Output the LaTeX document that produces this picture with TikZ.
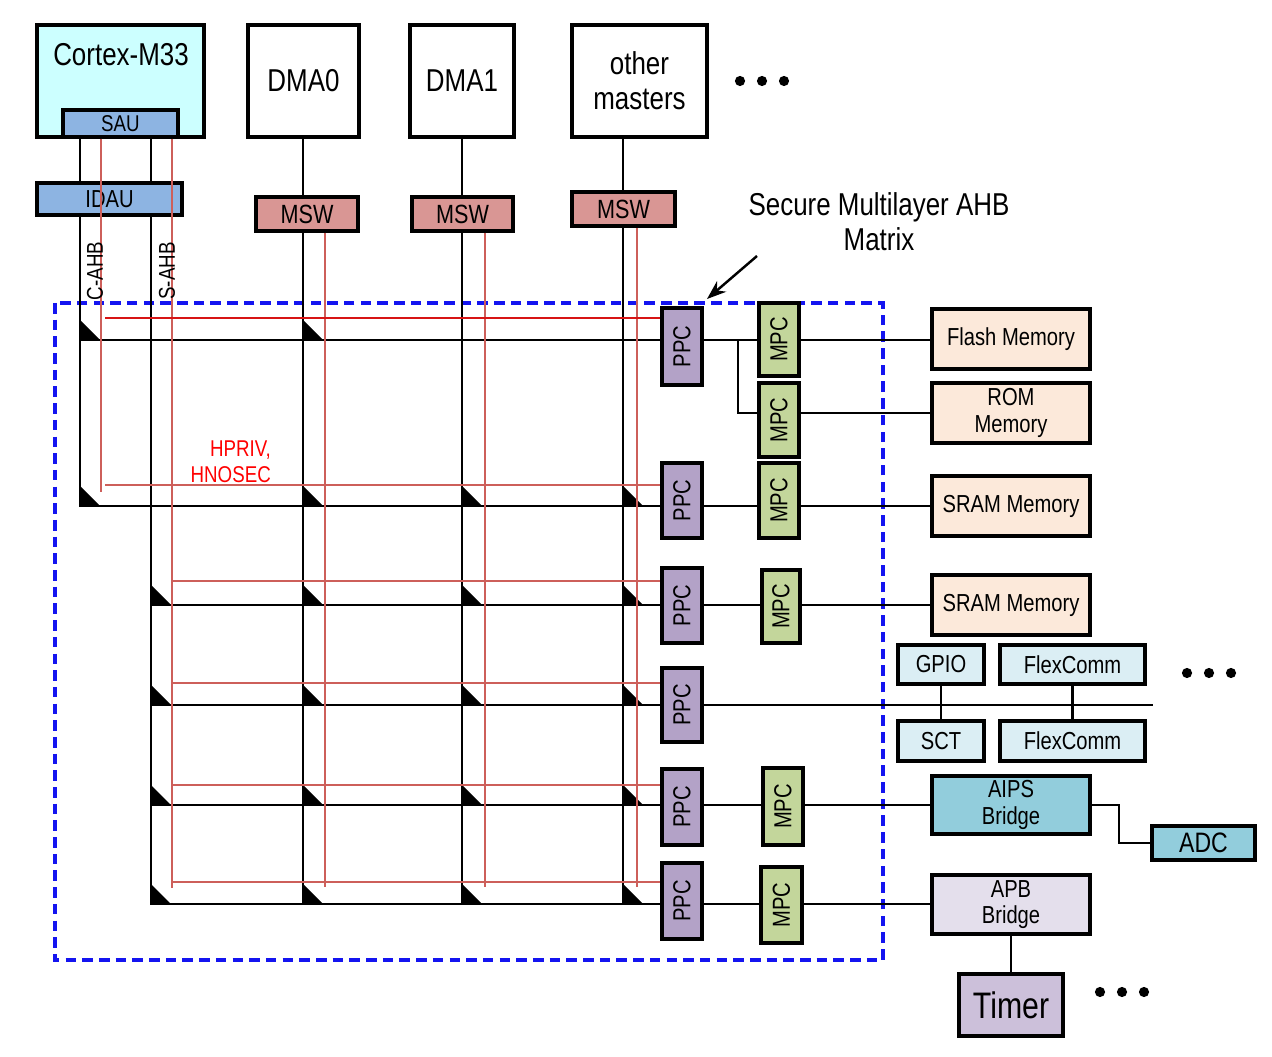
\documentclass[tikz,border=0pt]{standalone}
\usepackage{fontspec}
\setmainfont{Liberation Sans}[FakeStretch=0.82]
\usepackage{graphicx}
\usetikzlibrary{positioning,arrows.meta}
\definecolor{cpucol}{HTML}{CCFFFF}
\definecolor{saucol}{HTML}{8DB4E2}
\definecolor{mswcol}{HTML}{D99694}
\definecolor{ppccol}{HTML}{B3A2C7}
\definecolor{mpccol}{HTML}{C3D69B}
\definecolor{memcol}{HTML}{FCE9DA}
\definecolor{pericol}{HTML}{DBEEF4}
\definecolor{aipscol}{HTML}{92CDDC}
\definecolor{apbcol}{HTML}{E4DFEC}
\definecolor{timercol}{HTML}{CCC0DA}
\definecolor{hprot}{RGB}{205,95,90}
\definecolor{hprottop}{RGB}{215,20,20}
\definecolor{mtxblue}{RGB}{20,20,240}
\newcommand\fsz[2][]{\fontsize{#2}{#2}\selectfont}
% box from corner (x1,y1) to corner (x2,y2), in pixels
\newcommand\blkbox[7][]{\node[blk,#1,minimum width={(#5-#3)*0.02cm},minimum height={(#6-#4)*0.02cm}] (#2) at ({(#3+#5)/2},{(#4+#6)/2}) {#7};}
\begin{document}
\begin{tikzpicture}[x=0.02cm,y=-0.02cm,
	blk/.style={draw,line width=1.8pt,inner sep=0pt,align=center,font=\fsz{14}},
	bus/.style={line width=1.2pt},
	hbus/.style={line width=1.2pt,draw=hprot},
	rot/.style={rotate=90,font=\fsz{13}},
	tri/.style={fill=black}]
	\useasboundingbox (0,0) rectangle (1272,1057);
	\draw[mtxblue,line width=1.9pt,dash pattern=on 6pt off 3.5pt] (55,303) rectangle (883,960);
	% masters
	\blkbox[fill=cpucol]{cm33}{37}{25}{204}{137}{}
	\node[font=\fsz{18}] (cm33lab) at (121,55) {Cortex-M33};
	\blkbox[fill=saucol,font=\fsz{13}]{sau}{63}{110}{178}{137}{SAU}
	\blkbox[fill=saucol]{idau}{37}{183}{182}{215}{IDAU}
	\blkbox[font=\fsz{18}]{dma0}{248}{25}{359}{137}{DMA0}
	\blkbox[font=\fsz{18}]{dma1}{410}{25}{514}{137}{DMA1}
	\blkbox[font=\fontsize{18}{20}\selectfont]{oth}{572}{25}{707}{137}{other\\masters}
	\blkbox[fill=mswcol,font=\fsz{15}]{msw0}{256}{197}{358}{231}{MSW}
	\blkbox[fill=mswcol,font=\fsz{15}]{msw1}{412}{197}{513}{231}{MSW}
	\blkbox[fill=mswcol,font=\fsz{15}]{msw2}{572}{192}{675}{226}{MSW}
	\foreach \x [count=\i] in {740,762,784}
		\fill (\x,81) circle (2.9pt);
	% protection checkers
	\blkbox[fill=ppccol]{ppc1}{662}{308}{702}{385}{\rotatebox{90}{PPC}}
	\blkbox[fill=ppccol]{ppc2}{662}{463}{702}{538}{\rotatebox{90}{PPC}}
	\blkbox[fill=ppccol]{ppc3}{662}{568}{702}{643}{\rotatebox{90}{PPC}}
	\blkbox[fill=ppccol]{ppc4}{662}{668}{702}{742}{\rotatebox{90}{PPC}}
	\blkbox[fill=ppccol]{ppc5}{662}{769}{702}{845}{\rotatebox{90}{PPC}}
	\blkbox[fill=ppccol]{ppc6}{662}{863}{702}{939}{\rotatebox{90}{PPC}}
	\blkbox[fill=mpccol]{mpc1}{759}{303}{799}{376}{\rotatebox{90}{MPC}}
	\blkbox[fill=mpccol]{mpc1r}{759}{383}{799}{457}{\rotatebox{90}{MPC}}
	\blkbox[fill=mpccol]{mpc2}{759}{463}{799}{538}{\rotatebox{90}{MPC}}
	\blkbox[fill=mpccol]{mpc3}{762}{570}{800}{643}{\rotatebox{90}{MPC}}
	\blkbox[fill=mpccol]{mpc5}{763}{768}{803}{845}{\rotatebox{90}{MPC}}
	\blkbox[fill=mpccol]{mpc6}{761}{867}{802}{943}{\rotatebox{90}{MPC}}
	% slaves
	\blkbox[fill=memcol]{flash}{932}{309}{1090}{369}{Flash Memory}
	\blkbox[fill=memcol,font=\fontsize{14}{15}\selectfont]{rom}{932}{383}{1090}{443}{ROM\\Memory}
	\blkbox[fill=memcol]{sram1}{932}{476}{1090}{536}{SRAM Memory}
	\blkbox[fill=memcol]{sram2}{932}{575}{1090}{635}{SRAM Memory}
	\blkbox[fill=pericol]{gpio}{898}{645}{984}{684}{GPIO}
	\blkbox[fill=pericol]{fc1}{1000}{645}{1145}{684}{FlexComm}
	\blkbox[fill=pericol]{sct}{898}{721}{984}{761}{SCT}
	\blkbox[fill=pericol]{fc2}{1000}{721}{1145}{761}{FlexComm}
	\blkbox[fill=aipscol,font=\fontsize{14}{15}\selectfont]{aips}{932}{776}{1090}{834}{AIPS\\Bridge}
	\blkbox[fill=aipscol,font=\fsz{16}]{adc}{1152}{826}{1255}{860}{ADC}
	\blkbox[fill=apbcol,font=\fontsize{14}{15}\selectfont]{apb}{932}{875}{1090}{934}{APB\\Bridge}
	\blkbox[fill=timercol,font=\fsz{21}]{timer}{959}{974}{1063}{1036}{Timer}
	\foreach \x in {1187,1209,1231}
		\fill (\x,673) circle (2.9pt);
	\foreach \x in {1100,1122,1144}
		\fill (\x,992) circle (2.9pt);
	% bus columns and rows
	\coordinate (cb) at (80,0);
	\coordinate (sb) at (151,0);
	\coordinate (d0b) at (303,0);
	\coordinate (d1b) at (462,0);
	\coordinate (ob) at (623,0);
	\coordinate (cr) at (101,0);
	\coordinate (sr) at (172,0);
	\coordinate (d0r) at (325,0);
	\coordinate (d1r) at (485,0);
	\coordinate (or) at (637,0);
	\coordinate (br) at (738,0);
	\foreach \n/\y in {1/340,2/506,3/605,4/705,5/805,6/904}
		\coordinate (r\n) at (0,\y);
	\foreach \n/\y in {1/318,2/485,3/581,4/683,5/785,6/882}
		\coordinate (q\n) at (0,\y);
	\coordinate (r4end) at (1153,705);
	\draw[bus] (cm33.south -| cb) -- (idau.north -| cb);
	\draw[bus] (cm33.south -| sb) -- (idau.north -| sb);
	\draw[bus] (idau.south -| cb) -- (cb |- r2) -- (ppc2.west |- r2);
	\draw[bus] (cb |- r1) -- (ppc1.west |- r1);
	\draw[bus] (idau.south -| sb) -- (sb |- r6) -- (ppc6.west |- r6);
	\foreach \n in {3,4,5}
		\draw[bus] (sb |- r\n) -- (ppc\n.west |- r\n);
	\draw[bus] (dma0.south -| d0b) -- (msw0.north -| d0b);
	\draw[bus] (dma1.south -| d1b) -- (msw1.north -| d1b);
	\draw[bus] (oth.south -| ob) -- (msw2.north -| ob);
	\draw[bus] (msw0.south -| d0b) -- (d0b |- r6);
	\draw[bus] (msw1.south -| d1b) -- (d1b |- r6);
	\draw[bus] (msw2.south -| ob) -- (ob |- r6);
	\foreach \c/\r in {cb/r1,d0b/r1,cb/r2,d0b/r2,d1b/r2,ob/r2,sb/r3,d0b/r3,d1b/r3,ob/r3,sb/r4,d0b/r4,d1b/r4,ob/r4,sb/r5,d0b/r5,d1b/r5,ob/r5,sb/r6,d0b/r6,d1b/r6,ob/r6}
		\fill[tri] (\c |- \r) -- ++(0,-20) -- ++(20,20) -- cycle;
	% security signals
	\draw[hbus] (sau.south -| cr) -- ([yshift=-0.14cm]cr |- q2);
	\draw[hbus] (sau.south -| sr) -- ([yshift=-0.12cm]sr |- q6);
	\draw[hbus] (msw0.south -| d0r) -- ([yshift=-0.1cm]d0r |- q6);
	\draw[hbus] (msw1.south -| d1r) -- ([yshift=-0.1cm]d1r |- q6);
	\draw[hbus] (msw2.south -| or) -- ([yshift=-0.1cm]or |- q6);
	\draw[hbus,draw=hprottop] ([xshift=0.08cm]cr |- q1) -- (ppc1.west |- q1);
	\draw[hbus] ([xshift=0.08cm]cr |- q2) -- (ppc2.west |- q2);
	\foreach \n in {3,...,6}
		\draw[hbus] (sr |- q\n) -- (ppc\n.west |- q\n);
	% to the slaves
	\draw[bus] (ppc1.east |- r1) -- (mpc1.west |- r1);
	\draw[bus] (mpc1.east |- r1) -- (flash.west |- r1);
	\draw[bus] (br |- r1) -- (br |- rom.west) -- (mpc1r.west |- rom.west);
	\draw[bus] (mpc1r.east |- rom.west) -- (rom.west);
	\draw[bus] (ppc2.east |- r2) -- (mpc2.west |- r2);
	\draw[bus] (mpc2.east |- r2) -- (sram1.west |- r2);
	\draw[bus] (ppc3.east |- r3) -- (mpc3.west |- r3);
	\draw[bus] (mpc3.east |- r3) -- (sram2.west |- r3);
	\draw[bus] (ppc4.east |- r4) -- (r4end);
	\draw[bus] (gpio.south) -- (sct.north);
	\draw[bus] (fc1.south) -- (fc2.north);
	\draw[bus] (ppc5.east |- r5) -- (mpc5.west |- r5);
	\draw[bus] (mpc5.east |- r5) -- (aips.west |- r5);
	\draw[bus] (ppc6.east |- r6) -- (mpc6.west |- r6);
	\draw[bus] (mpc6.east |- r6) -- (apb.west |- r6);
	\draw[bus] (aips.east) -- ++(27,0) |- (adc.west);
	\draw[bus] (apb.south) -- (timer.north);
	% labels
	\node[rot] (cahblab) at (95,271) {C-AHB};
	\node[rot] (sahblab) at (167,271) {S-AHB};
	\node[font=\fontsize{13}{15}\selectfont,text=red,align=right,anchor=east] (hpriv) at (277,462) {HPRIV,\\HNOSEC};
	\node[font=\fontsize{18}{20}\selectfont,align=center] (mtxlab) at (879,222) {Secure Multilayer AHB\\Matrix};
	\coordinate (arrtail) at (757,256);
	\coordinate (arrtip) at (707,299);
	\draw[line width=1.4pt,-{Stealth[length=11pt,width=8pt]}] (arrtail) -- (arrtip);
\end{tikzpicture}
\end{document}
